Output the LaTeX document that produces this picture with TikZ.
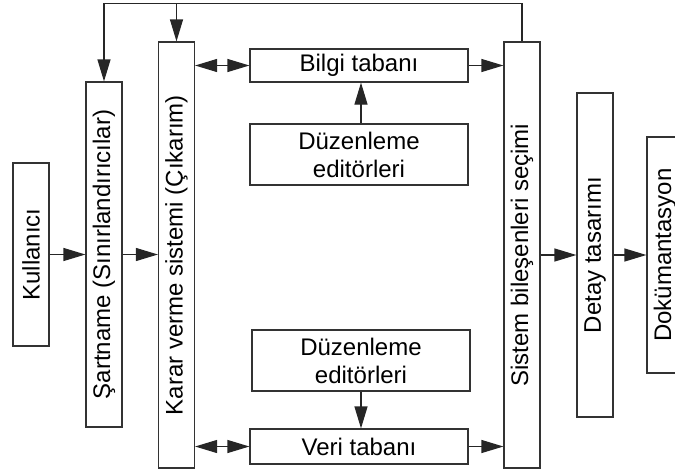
\documentclass[tikz,border=0pt]{standalone}
\usepackage{fontspec}
\setmainfont{Liberation Sans}
\usetikzlibrary{arrows.meta}
\begin{document}
\begin{tikzpicture}[x=1pt,y=-1pt,
  box/.style={draw=black!80, line width=1.2pt, fill=white, inner sep=0pt, align=center,
    font=\fontsize{24}{28}\selectfont},
  vbox/.style={box, minimum width=36pt},
  tip/.tip={Triangle[length=22pt,width=13pt]},
  arr/.style={draw=black!85, line width=1.2pt, -tip},
  darr/.style={draw=black!85, line width=1.2pt, tip-tip},
  fline/.style={draw=black!80, line width=1.2pt}]
\useasboundingbox (0,0) rectangle (675,472);
\node[vbox, minimum height=183pt] (kul) at (31,254.5) {\rotatebox{90}{Kullanıcı}};
\node[vbox, minimum height=345pt] (sart) at (104,254.5) {\rotatebox{90}{Şartname (Sınırlandırıcılar)}};
\node[vbox, minimum height=426pt] (karar) at (176.5,255) {\rotatebox{90}{Karar verme sistemi (Çıkarım)}};
\node[box, minimum width=218pt, minimum height=33pt] (bilgi) at (359,65.5) {Bilgi tabanı};
\node[box, minimum width=218pt, minimum height=61pt] (duz1) at (359,154.5) {Düzenleme\\editörleri};
\node[box, minimum width=218pt, minimum height=61pt] (duz2) at (361,360.5) {Düzenleme\\editörleri};
\node[box, minimum width=218pt, minimum height=35pt] (veri) at (359,446.5) {Veri tabanı};
\node[vbox, minimum height=426pt] (sistem) at (522,255) {\rotatebox{90}{Sistem bileşenleri seçimi}};
\node[vbox, minimum height=324pt] (detay) at (595,255) {\rotatebox{90}{Detay tasarımı}};
\node[vbox, minimum height=236pt] (dok) at (665,255) {\rotatebox{90}{Dokümantasyon}};
\coordinate (top) at (0,3.5);
% flow arrows
\draw[arr] (kul.east) -- (sart.west);
\draw[arr] (sart.west -| sart.east) -- (sart.west -| karar.west);
\draw[arr] (sistem.east |- detay.west) -- (detay.west);
\draw[arr] (detay.east) -- (dok.west);
\draw[darr] (bilgi.west -| karar.east) -- (bilgi.west);
\draw[darr] (veri.west -| karar.east) -- (veri.west);
\draw[arr] (bilgi.east) -- (bilgi.east -| sistem.west);
\draw[arr] (veri.east) -- (veri.east -| sistem.west);
\draw[arr] ([xshift=2pt]duz1.north) -- ([xshift=2pt]duz1.north |- bilgi.south);
\draw[arr] (duz2.south) -- (duz2.south |- veri.north);
% feedback
\draw[arr] (sistem.north) -- (sistem.north |- top) -| (sart.north);
\draw[arr] (karar.north |- top) -- (karar.north);
\end{tikzpicture}
\end{document}
